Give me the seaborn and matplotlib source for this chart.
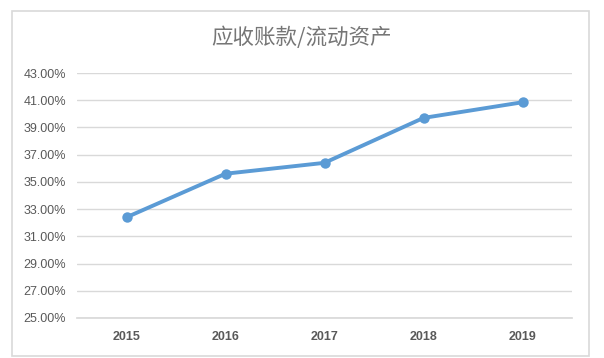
import matplotlib
matplotlib.use("Agg")
import matplotlib.pyplot as plt
import seaborn as sns
import pandas as pd
from matplotlib.patches import Rectangle
from matplotlib.ticker import FuncFormatter

years = ["2015", "2016", "2017", "2018", "2019"]
ratio = [32.4, 35.6, 36.4, 39.7, 40.85]
yticks = [25, 27, 29, 31, 33, 35, 37, 39, 41, 43]
title = "应收账款/流动资产"

sns.set_theme(style="white")
plt.rcParams['font.family'] = ['Noto Sans CJK SC', 'DejaVu Sans']

df = pd.DataFrame({"year": years, "ratio": ratio})

fig = plt.figure(figsize=(6.04, 3.58), dpi=100)
fig.patch.set_facecolor("white")
fig.patches.append(Rectangle((12/604, 1-356/358), (589-12)/604, (356-11)/358,
                             transform=fig.transFigure, fill=False,
                             edgecolor="#D9D9D9", linewidth=1.2))

ax = fig.add_axes([77/604, 1-318/358, (572-77)/604, (318-73)/358])
sns.lineplot(data=df, x="year", y="ratio", ax=ax, color="#5B9BD5",
             linewidth=2.8, marker="o", markersize=7.5, markeredgewidth=0,
             sort=False)
ax.set_xlim(-0.5, 4.5)
ax.set_ylim(25, 43)
ax.set_yticks(yticks)
ax.yaxis.set_major_formatter(FuncFormatter(lambda v, p: f"{v:.2f}%"))
ax.grid(axis="y", color="#D9D9D9", linewidth=1)
ax.set_axisbelow(True)
for s in ["top", "right", "left"]:
    ax.spines[s].set_visible(False)
ax.spines["bottom"].set_color("#D9D9D9")
ax.tick_params(axis="both", length=0, colors="#595959")
ax.tick_params(axis="y", pad=8)
ax.tick_params(axis="x", pad=9)
for lab in ax.get_yticklabels():
    lab.set_fontfamily("Liberation Sans")
    lab.set_fontsize(9)
for lab in ax.get_xticklabels():
    lab.set_fontfamily("Liberation Sans")
    lab.set_fontsize(9)
    lab.set_fontweight("bold")
ax.set_xlabel("")
ax.set_ylabel("")
fig.text(0.5, 1-38/358, title, ha="center", va="center", fontsize=15.5,
         color="#767676")

fig.savefig("out.png", dpi=100, facecolor="white")
